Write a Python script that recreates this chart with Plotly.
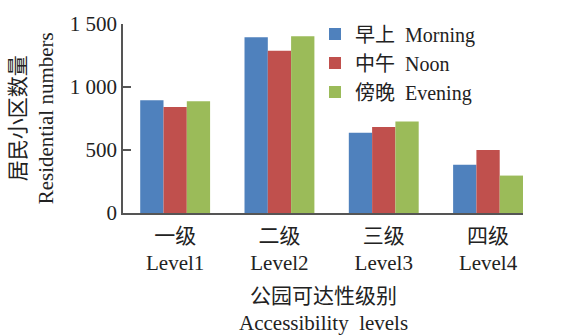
import plotly.graph_objects as go

# Data: residential community counts by park accessibility level and time of day
levels_cn = ["一级", "二级", "三级", "四级"]
levels_en = ["Level1", "Level2", "Level3", "Level4"]
series_names = ["早上\u00a0\u00a0Morning", "中午\u00a0\u00a0Noon", "傍晚\u00a0\u00a0Evening"]
morning = [895, 1395, 637, 382]
noon = [842, 1288, 683, 500]
evening = [886, 1402, 726, 297]
colors = ["#4F81BD", "#C0504D", "#9BBB59"]

y_ticks = [0, 500, 1000, 1500]
y_tick_text = ["0", "500", "1\u00a0000", "1\u00a0500"]

FONT = "Liberation Serif, Times New Roman, Noto Sans CJK SC, serif"
FS = 21

x_idx = list(range(len(levels_cn)))
fig = go.Figure()
for name, vals, col in zip(series_names, [morning, noon, evening], colors):
    fig.add_trace(go.Bar(x=x_idx, y=vals, name=name, marker=dict(color=col, line=dict(width=0))))

fig.update_layout(
    width=563, height=335,
    margin=dict(l=123, r=40, t=16, b=122),
    paper_bgcolor="white", plot_bgcolor="white",
    barmode="group", bargap=0.33, bargroupgap=0,
    font=dict(family=FONT, size=FS, color="#222"),
    showlegend=True,
    legend=dict(x=0.48, y=1.05, xanchor="left", yanchor="top",
                font=dict(size=20, family=FONT, color="#222"),
                bgcolor="rgba(0,0,0,0)", itemwidth=30, tracegroupgap=0),
)

fig.update_xaxes(
    range=[-0.5, 3.335],
    tickmode="array", tickvals=x_idx,
    ticktext=[f"{c}<br>{e}" for c, e in zip(levels_cn, levels_en)],
    showline=True, linecolor="#555", linewidth=1.5,
    ticks="", showgrid=False, zeroline=False, ticklabelstandoff=3,
    tickfont=dict(size=FS, family=FONT, color="#222"),
)
fig.update_yaxes(
    range=[0, 1500],
    tickmode="array", tickvals=y_ticks, ticktext=y_tick_text,
    showline=True, linecolor="#555", linewidth=1.5,
    ticks="inside", ticklen=8, tickcolor="#555", tickwidth=1.5,
    showgrid=False, zeroline=False,
    tickfont=dict(size=FS, family=FONT, color="#222"),
)

# Axis titles (two lines each: Chinese + English)
fig.add_annotation(xref="paper", yref="paper", x=-0.228, y=0.5, xanchor="center", yanchor="middle",
                   text="居民小区数量<br>Residential numbers", textangle=-90, showarrow=False,
                   font=dict(size=FS, family=FONT, color="#222"))
fig.add_annotation(xref="paper", yref="paper", x=0.5, y=-0.512, xanchor="center", yanchor="middle",
                   text="公园可达性级别<br>Accessibility\u00a0\u00a0levels", showarrow=False,
                   font=dict(size=FS, family=FONT, color="#222"))

fig.write_html("out.html")
